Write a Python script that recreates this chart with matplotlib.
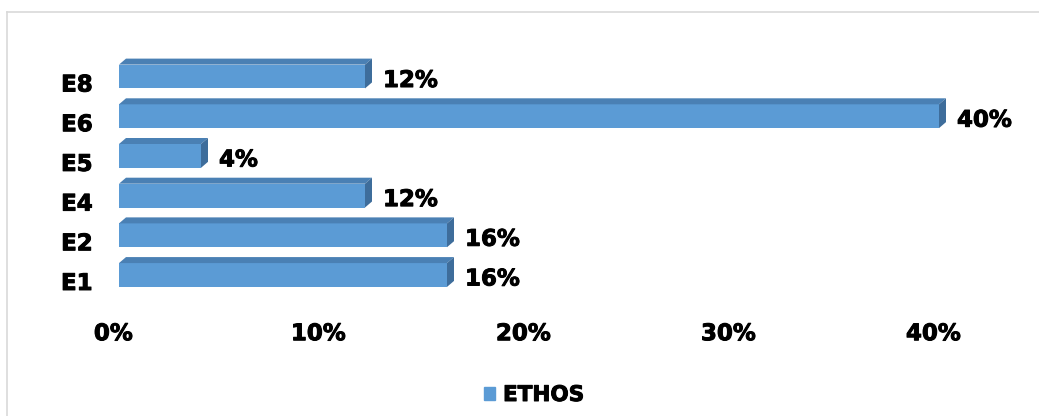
import matplotlib
matplotlib.use("Agg")
import matplotlib.pyplot as plt
import matplotlib.patheffects as pe
from matplotlib.patches import Polygon, Patch
from matplotlib.lines import Line2D
from matplotlib.transforms import ScaledTranslation

categories = ["E1", "E2", "E4", "E5", "E6", "E8"]
values = [16, 16, 12, 4, 40, 12]
xticks = [0, 10, 20, 30, 40]
xtick_labels = ["0%", "10%", "20%", "30%", "40%"]
series_name = "ETHOS"

front = "#5b9bd5"
top = "#4a80b4"
side = "#3e6d9b"

W, H, DPI = 1039, 416, 100
fig = plt.figure(figsize=(W / DPI, H / DPI), dpi=DPI)
plt.rcParams["font.family"] = ["DejaVu Sans"]

# heavier bold text
thick = [pe.withStroke(linewidth=0.7, foreground="black")]
fs = 16.5

# axes placed in pixels: left edge at 119, bottom at 300, top at 40
ax = fig.add_axes([119 / W, (H - 300) / H, 902 / W, 260 / H])
ax.set_xlim(0, 44)
ax.set_ylim(-0.63, 5.92)

px_x = 902 / 44
px_y = 260 / (5.92 + 0.63)
dx = 7 / px_x
dy = 6 / px_y
bh = 0.6

ypos = list(range(len(categories)))
ax.barh(ypos, values, height=bh, color=front, zorder=2)
for y, v in zip(ypos, values):
    t = y + bh / 2
    b = y - bh / 2
    ax.add_patch(Polygon([(0, t), (v, t), (v + dx, t + dy), (dx, t + dy)],
                         closed=True, facecolor=top, edgecolor="none", zorder=2))
    ax.add_patch(Polygon([(v, b), (v, t), (v + dx, t + dy), (v + dx, b + dy)],
                         closed=True, facecolor=side, edgecolor="none", zorder=2))
    ax.annotate(f"{v}%", xy=(v, y), xytext=(18, -4), textcoords="offset pixels",
                va="center", ha="left", fontsize=fs, fontweight="bold",
                path_effects=thick)

for s in ax.spines.values():
    s.set_visible(False)
ax.tick_params(length=0)

ax.set_yticks(ypos)
ax.set_yticklabels(categories, fontsize=fs, fontweight="bold")
ax.tick_params(axis="y", pad=19)
for lbl in ax.get_yticklabels():
    lbl.set_transform(lbl.get_transform() + ScaledTranslation(0, -6 / DPI, fig.dpi_scale_trans))
    lbl.set_path_effects(thick)

ax.set_xticks(xticks)
ax.set_xticklabels(xtick_labels, fontsize=fs, fontweight="bold")
ax.tick_params(axis="x", pad=16)
for lbl in ax.get_xticklabels():
    lbl.set_transform(lbl.get_transform() + ScaledTranslation(-5.6 / DPI, 0, fig.dpi_scale_trans))
    lbl.set_path_effects(thick)

leg = fig.legend(handles=[Patch(color=front, label=series_name)], loc="center",
                 bbox_to_anchor=(534 / W, 1 - 395 / H), frameon=False,
                 handlelength=0.55, handleheight=0.55, handletextpad=0.35,
                 prop={"size": 15.5, "weight": "bold"})
for txt in leg.get_texts():
    txt.set_path_effects(thick)

# light chart-area border along top and left
border = "#d9d9d9"
fig.add_artist(Line2D([7 / W, 1], [1 - 12 / H, 1 - 12 / H], color=border, lw=1.2))
fig.add_artist(Line2D([7 / W, 7 / W], [0, 1 - 12 / H], color=border, lw=1.2))

fig.savefig("out.png", dpi=DPI, facecolor="white")
